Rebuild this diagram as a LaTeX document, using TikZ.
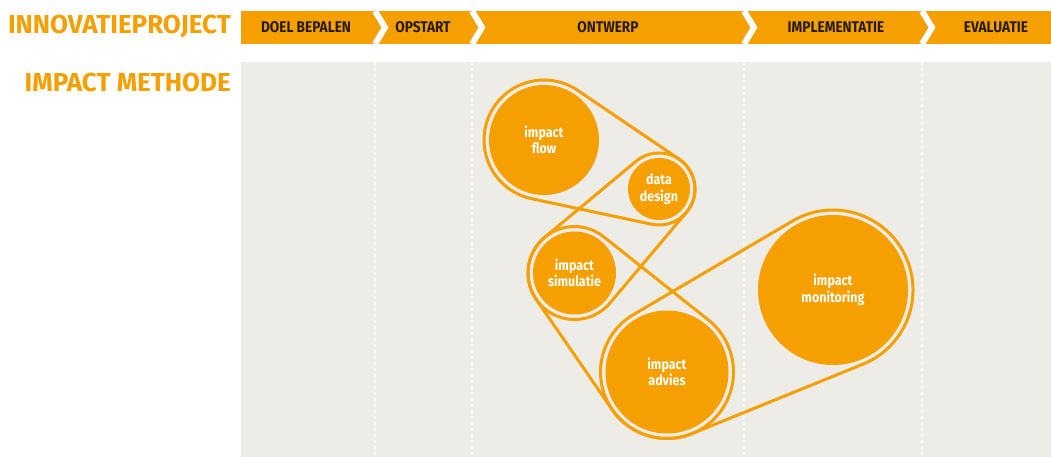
\documentclass[tikz,border=0pt]{standalone}
\usepackage{fontspec}
\setsansfont{Fira Sans}[FakeStretch=0.88]
\newfontfamily\koptekst{Fira Sans}
\usepackage{tikz}
\usetikzlibrary{calc}
\definecolor{oranje}{HTML}{F59F00}
\definecolor{vlak}{HTML}{EEECE7}
\definecolor{inkt}{HTML}{241C0C}
\tikzset{
  titel/.style={font=\koptekst\bfseries\fontsize{26}{28}\selectfont, text=oranje, anchor=east, inner sep=0pt},
  fase/.style={font=\sffamily\bfseries\fontsize{15.5}{17}\selectfont, text=inkt, inner sep=0pt},
  wiel/.style={circle, fill=oranje, inner sep=0pt, align=center, text=white, font=\sffamily\bfseries\fontsize{14.2}{16.5}\selectfont},
  riem/.style={draw=oranje, line width=3pt, line join=round},
  grens/.style={white, line width=1.5pt, dash pattern=on 3pt off 3pt},
  pijl/.style={white, line width=6pt, line join=miter},
}
% belt round two wheels: #1,#2 wheel nodes, #3,#4 belt radii
\newcommand{\riem}[4]{%
  \draw[riem] let \p1=(#1), \p2=(#2),
      \n1={atan2(\y2-\y1,\x2-\x1)},
      \n2={veclen(\x2-\x1,\y2-\y1)},
      \n3={acos((#3-#4)/\n2)} in
    ($(\p1)+(\n1+\n3:#3)$) arc[start angle=\n1+\n3, end angle=\n1+360-\n3, radius=#3]
    -- ($(\p2)+(\n1-\n3:#4)$) arc[start angle=\n1-\n3, end angle=\n1+\n3, radius=#4]
    -- cycle;}

\begin{document}
\begin{tikzpicture}[x=1pt,y=1pt]
  \useasboundingbox (0,0) rectangle (1051,457);
  % phase bar and lanes
  \fill[vlak] (241,0) rectangle (1051,395);
  \fill[oranje] (241,413) rectangle (1051,446);
  \foreach \x in {375,472,744,922} {
    \draw[pijl] (\x,446) -- (\x+10,429.5) -- (\x,413);
    \draw[grens] (\x,395) -- (\x,0);
  }
  \node[fase] (doel) at (306,429.5) {DOEL BEPALEN};
  \node[fase] (opstart) at (423,429.5) {OPSTART};
  \node[fase] (ontwerp) at (608,429.5) {ONTWERP};
  \node[fase] (impl) at (836,429.5) {IMPLEMENTATIE};
  \node[fase] (eval) at (996,429.5) {EVALUATIE};
  \node[titel] (project) at (231,431) {INNOVATIEPROJECT};
  \node[titel] (methode) at (231,375) {IMPACT METHODE};
  % wheels
  \node[wiel, minimum size=110pt] (flow) at (544,317) {impact\\flow};
  \node[wiel, minimum size=62pt] (design) at (659,268) {data\\design};
  \node[wiel, minimum size=83pt] (simulatie) at (574.5,184) {impact\\simulatie};
  \node[wiel, minimum size=123pt] (advies) at (667,85) {impact\\advies};
  \node[wiel, minimum size=150pt] (monitoring) at (833,167) {impact\\monitoring};
  % belts
  \riem{flow}{design}{60}{36}
  \riem{simulatie}{design}{46.5}{36}
  \riem{advies}{simulatie}{66.5}{46.5}
  \riem{monitoring}{advies}{80}{66.5}
\end{tikzpicture}
\end{document}
